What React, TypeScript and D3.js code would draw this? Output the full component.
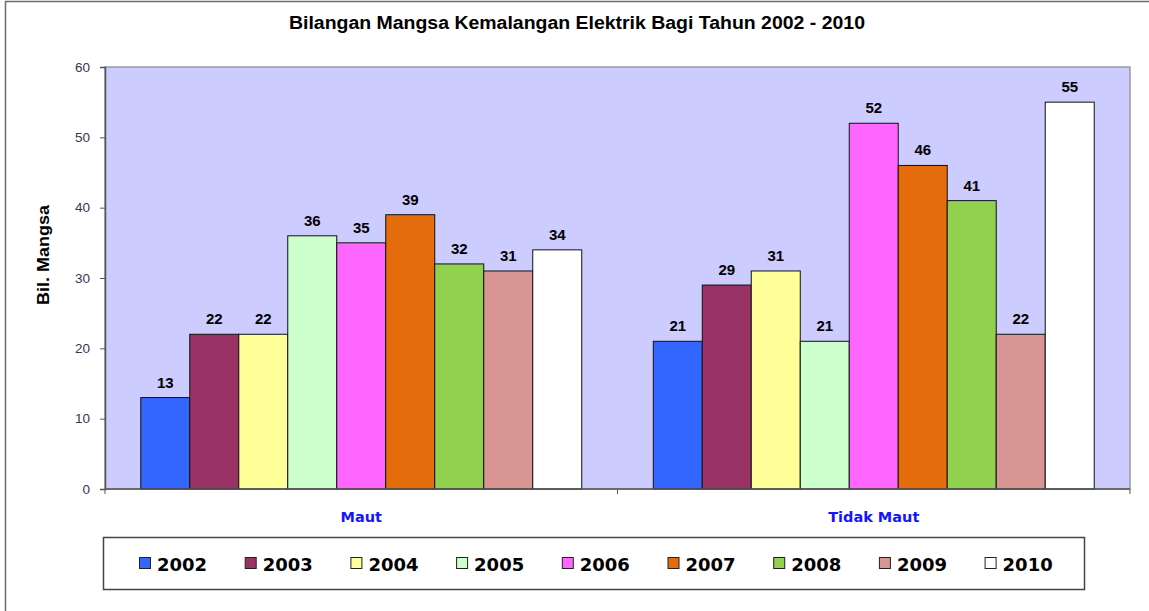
import { useEffect, useRef } from 'react';
import * as d3 from 'd3';

const categories = ['Maut', 'Tidak Maut'];
const years = ['2002', '2003', '2004', '2005', '2006', '2007', '2008', '2009', '2010'];
const mautValues = [13, 22, 22, 36, 35, 39, 32, 31, 34];
const tidakMautValues = [21, 29, 31, 21, 52, 46, 41, 22, 55];
const yearColors = ['#3366ff', '#993366', '#ffff99', '#ccffcc', '#ff66ff', '#e46c0a', '#92d050', '#d99594', '#ffffff'];
const yTicks = [0, 10, 20, 30, 40, 50, 60];

export default function App() {
    const ref = useRef<SVGSVGElement>(null);

    useEffect(() => {
        document.body.style.margin = '0';
        if (!ref.current) return;
        const svg = d3.select(ref.current);
        svg.selectAll('*').remove();

        const W = 1149, H = 611;
        const plot = { left: 105, top: 67, right: 1130, bottom: 489 };

        // outer frame (right and bottom edges fall outside the picture)
        svg.append('rect')
            .attr('x', 5.5).attr('y', 1.5)
            .attr('width', W + 10).attr('height', H + 10)
            .attr('fill', '#fff').attr('stroke', '#6b6b6b').attr('stroke-width', 1.5);

        svg.append('text')
            .attr('x', 577).attr('y', 29)
            .attr('text-anchor', 'middle')
            .attr('font-family', 'Liberation Sans, Arial, sans-serif')
            .attr('font-weight', 'bold').attr('font-size', 18)
            .attr('textLength', 576).attr('lengthAdjust', 'spacingAndGlyphs')
            .text('Bilangan Mangsa Kemalangan Elektrik Bagi Tahun 2002 - 2010');

        const y = d3.scaleLinear().domain([0, 60]).range([plot.bottom, plot.top]);
        const x0 = d3.scaleBand().domain(categories).range([plot.left, plot.right]).paddingInner(0).paddingOuter(0);
        const x1 = d3.scaleBand().domain(years).range([0, x0.bandwidth()]).paddingOuter(0.73).paddingInner(0);

        // plot background
        svg.append('rect')
            .attr('x', plot.left).attr('y', plot.top)
            .attr('width', plot.right - plot.left).attr('height', plot.bottom - plot.top)
            .attr('fill', '#ccccff').attr('stroke', '#9a9a9a').attr('stroke-width', 1.5);

        const series = [mautValues, tidakMautValues];
        categories.forEach((c, ci) => {
            const g = svg.append('g').attr('transform', `translate(${x0(c)},0)`);
            years.forEach((yr, i) => {
                const v = series[ci][i];
                g.append('rect')
                    .attr('x', x1(yr)!).attr('y', y(v))
                    .attr('width', x1.bandwidth()).attr('height', y(0) - y(v))
                    .attr('fill', yearColors[i]).attr('stroke', '#111').attr('stroke-width', 1);
                g.append('text')
                    .attr('x', x1(yr)! + x1.bandwidth() / 2).attr('y', y(v) - 10)
                    .attr('text-anchor', 'middle')
                    .attr('font-family', 'Liberation Sans, Arial, sans-serif')
                    .attr('font-weight', 'bold').attr('font-size', 15)
                    .text(v);
            });
        });

        // y axis
        const yAxis = svg.append('g').attr('transform', `translate(${plot.left},0)`)
            .call(d3.axisLeft(y).tickValues(yTicks).tickSize(5).tickPadding(10));
        yAxis.select('.domain').attr('stroke', '#555').attr('stroke-width', 1.5);
        yAxis.selectAll('line').attr('stroke', '#555');
        yAxis.selectAll('text')
            .attr('font-family', 'Liberation Sans, Arial, sans-serif')
            .attr('font-size', 13.5).attr('fill', '#3a3450');

        // x axis
        svg.append('line')
            .attr('x1', plot.left).attr('x2', plot.right)
            .attr('y1', plot.bottom).attr('y2', plot.bottom)
            .attr('stroke', '#555').attr('stroke-width', 1.5);
        [plot.left, x0('Tidak Maut')!, plot.right].forEach(tx => {
            svg.append('line')
                .attr('x1', tx).attr('x2', tx)
                .attr('y1', plot.bottom).attr('y2', plot.bottom + 5)
                .attr('stroke', '#555');
        });
        categories.forEach(c => {
            svg.append('text')
                .attr('x', x0(c)! + x0.bandwidth() / 2).attr('y', 522)
                .attr('text-anchor', 'middle')
                .attr('font-family', 'DejaVu Sans, sans-serif')
                .attr('font-weight', 'bold').attr('font-size', 14.5)
                .attr('fill', '#1414ff')
                .text(c);
        });

        svg.append('text')
            .attr('transform', 'translate(49,255) rotate(-90)')
            .attr('text-anchor', 'middle')
            .attr('font-family', 'Liberation Sans, Arial, sans-serif')
            .attr('font-weight', 'bold').attr('font-size', 17)
            .attr('textLength', 100).attr('lengthAdjust', 'spacingAndGlyphs')
            .text('Bil. Mangsa');

        // legend
        svg.append('rect')
            .attr('x', 103.5).attr('y', 537.5)
            .attr('width', 981).attr('height', 52)
            .attr('fill', '#fff').attr('stroke', '#444').attr('stroke-width', 1.5);
        const lx = d3.scalePoint().domain(years).range([139, 139 + 8 * 105.7]);
        years.forEach((yr, i) => {
            const gx = lx(yr)!;
            svg.append('rect')
                .attr('x', gx + 0.5).attr('y', 557.5)
                .attr('width', 11).attr('height', 11)
                .attr('fill', yearColors[i]).attr('stroke', '#222');
            svg.append('text')
                .attr('x', gx + 18).attr('y', 571)
                .attr('font-family', 'DejaVu Sans, sans-serif')
                .attr('font-weight', 'bold').attr('font-size', 18)
                .text(yr);
        });
    }, []);

    return <svg ref={ref} width={1149} height={611} style={{ display: 'block' }} />;
}
